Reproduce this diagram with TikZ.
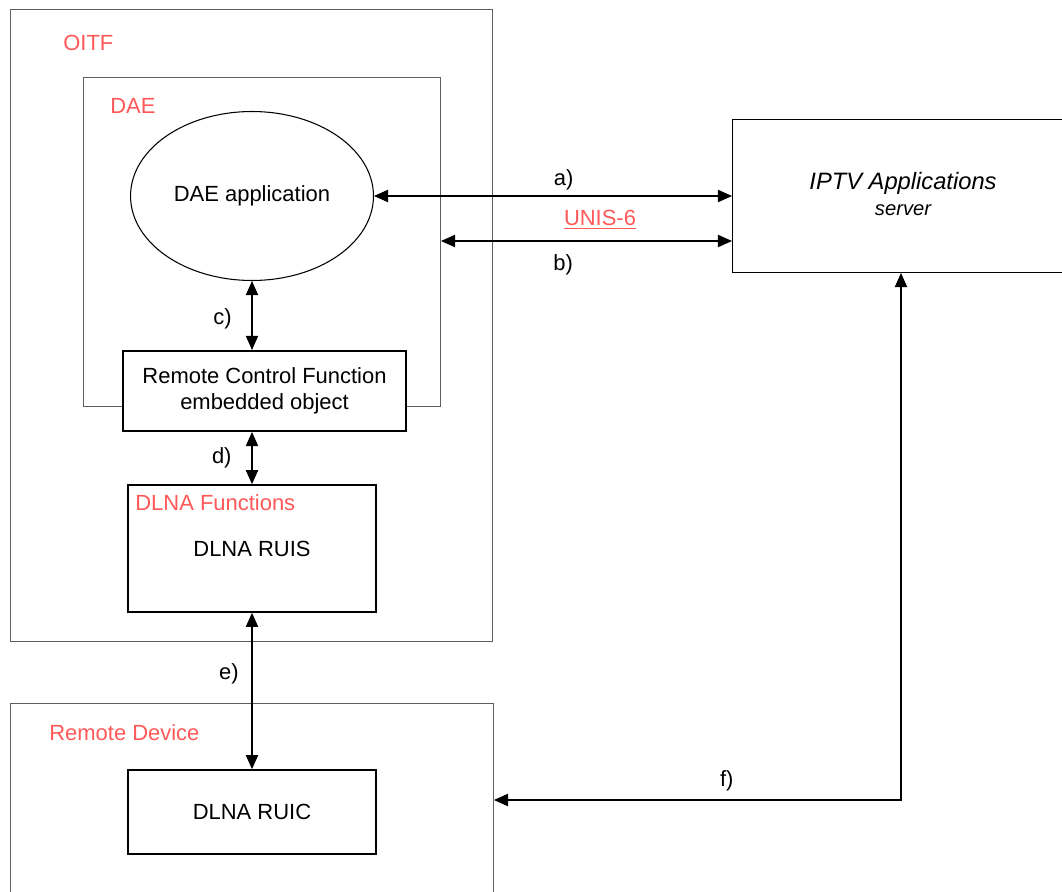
\documentclass[tikz,border=0pt]{standalone}
\usepackage{fontspec}
\setmainfont{Liberation Sans}
\usetikzlibrary{arrows.meta,shapes.geometric}

\definecolor{tagred}{RGB}{255,88,88}
\definecolor{outergray}{RGB}{95,95,95}

\begin{document}
\begin{tikzpicture}[x=0.02cm,y=-0.02cm,>={Triangle[length=8pt,width=7pt]},
    every node/.style={font=\fontsize{12.5}{15}\selectfont},
    outer/.style={draw=outergray,line width=0.6pt,inner sep=0pt},
    block/.style={draw,line width=1pt,fill=white,inner sep=0pt,align=center},
    tag/.style={text=tagred,anchor=west,inner sep=0pt},
    link/.style={<->,line width=0.6pt}]
    \useasboundingbox (0,0) rectangle (1062,892);

    \node[outer,minimum width=9.66cm,minimum height=12.66cm] (oitf) at (251.5,325.5) {};
    \node[tag] (oitftag) at (63,43) {OITF};
    \node[outer,minimum width=7.16cm,minimum height=6.6cm] (dae) at (262,242) {};
    \node[tag] (daetag) at (110,106) {DAE};
    \node[draw,ellipse,line width=0.6pt,inner sep=0pt,minimum width=4.86cm,minimum height=3.38cm] (app) at (252,196) {DAE application};
    \node[block,line width=1.2pt,minimum width=5.66cm,minimum height=1.6cm] (rcf) at (264.5,391) {Remote Control Function\\embedded object};
    \node[block,minimum width=4.96cm,minimum height=2.54cm] (dlna) at (252,548.5) {};
    \node[tag] (dlnatag) at (135,503) {DLNA Functions};
    \node (ruis) at (252,549) {DLNA RUIS};

    \node[outer,anchor=north west,minimum width=9.66cm,minimum height=4.2cm] (remote) at (10,703) {};
    \node[tag] (remotetag) at (49,733) {Remote Device};
    \node[block,minimum width=4.96cm,minimum height=1.68cm] (ruic) at (252,812) {DLNA RUIC};

    \node[draw,line width=0.6pt,inner sep=0pt,anchor=north west,minimum width=7.2cm,minimum height=3.06cm] (iptv) at (732,119) {};
    \node[font=\fontsize{13.5}{16}\selectfont\itshape] (iptvname) at (903,183) {IPTV Applications};
    \node[font=\fontsize{11.5}{14}\selectfont\itshape] (iptvkind) at (903,210) {server};
    \node[text=tagred] (unis) at (600,220) {\underline{UNIS-6}};

    \coordinate (bstart) at (441,241);
    \coordinate (fbend) at (901,800);

    \path[link] (app.east) edge node[above,pos=0.53] {a)} (app.east -| iptv.west)
                (bstart) edge node[below=4pt,pos=0.42] {b)} (bstart -| iptv.west)
                (app.south) edge node[left=8pt,pos=0.55] {c)} (app.south |- rcf.north)
                (app.south |- rcf.south) edge node[left=8pt] {d)} (dlna.north)
                (dlna.south) edge node[left=4pt,pos=0.39] {e)} (ruic.north);
    \draw[link] (iptv.south -| fbend) |- node[above=1.5pt,pos=0.714] {f)} (fbend -| remote.east);

\end{tikzpicture}
\end{document}
